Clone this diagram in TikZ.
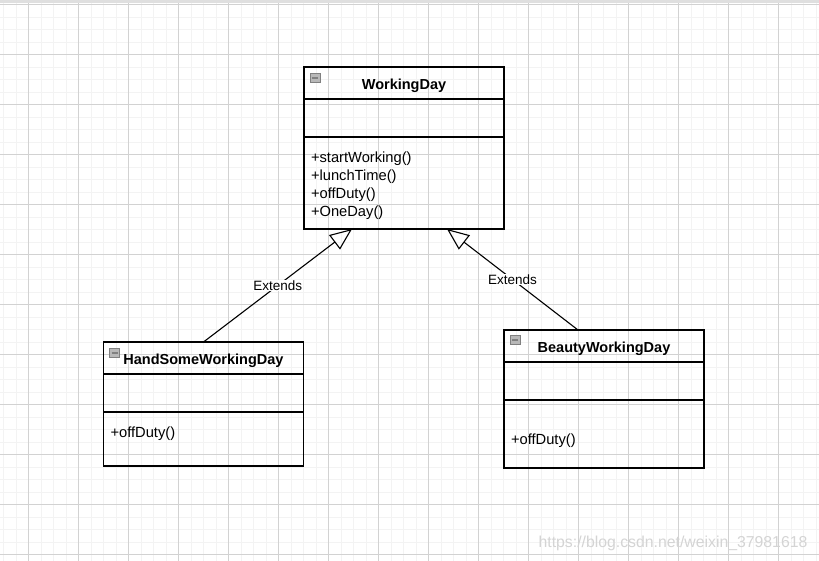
\documentclass[tikz,border=0pt]{standalone}
\usepackage{fontspec}
\setmainfont{Liberation Sans}
\usetikzlibrary{positioning,arrows.meta}

\definecolor{gridmajor}{HTML}{D2D2D2}
\definecolor{gridminor}{HTML}{F3F3F3}
\definecolor{iconfill}{HTML}{B8B8B8}
\definecolor{markgray}{HTML}{D4D4D4}

\tikzset{
  classtitle/.style={draw, line width=1.1pt, outer sep=0pt, inner sep=0pt,
    minimum width=200pt, minimum height=32pt, text height=13.5pt, text depth=0pt,
    font=\fontsize{14.5}{17.5}\selectfont\bfseries},
  classpart/.style={draw, line width=1.1pt, outer sep=0pt, inner sep=0pt,
    minimum width=200pt},
  classops/.style={draw, line width=1.1pt, outer sep=0pt, inner ysep=0pt,
    inner xsep=7pt, text width=186pt, align=left,
    font=\fontsize{14.7}{17.8}\selectfont},
  foldicon/.style={draw=gray, fill=iconfill, minimum width=10pt,
    minimum height=9pt, inner sep=0pt,
    path picture={\draw[line width=1.3pt] ([xshift=2pt]path picture bounding box.west)
      -- ([xshift=-2pt]path picture bounding box.east);}},
  extends/.style={line width=1.1pt, -{Triangle[open, length=22pt, width=18pt, line width=1.1pt]}},
  extlabel/.style={fill=white, inner sep=1pt, font=\fontsize{13.5}{16}\selectfont}
}

\begin{document}
\begin{tikzpicture}[x=1pt, y=-1pt]
  \useasboundingbox (0,0) rectangle (819,561);
  \fill[white] (0,0) rectangle (819,561);
  \foreach \x in {3.3,15.8,...,819} \draw[gridminor] (\x,0) -- (\x,561);
  \foreach \y in {4.3,16.8,...,561} \draw[gridminor] (0,\y) -- (819,\y);
  \foreach \x in {28.3,78.3,...,819} \draw[gridmajor] (\x,0) -- (\x,561);
  \foreach \y in {4.3,54.3,...,561} \draw[gridmajor] (0,\y) -- (819,\y);
  \fill[gray!25] (0,0) rectangle (819,3);

  \node[classtitle, anchor=north] (WorkingDay) at (404,67) {WorkingDay};
  \node[classpart, minimum height=38pt, below=0pt of WorkingDay] (WorkingDay-attr) {};
  \node[classops, minimum height=92pt, text height=10.5pt, text depth=50.5pt,
    below=0pt of WorkingDay-attr] (WorkingDay-ops)
    {+startWorking()\\+lunchTime()\\+offDuty()\\+OneDay()};
  \node[foldicon] (WorkingDay-icon) at (315,78) {};

  \node[classtitle, anchor=north] (HandSome) at (203.5,342) {HandSomeWorkingDay};
  \node[classpart, minimum height=38pt, below=0pt of HandSome] (HandSome-attr) {};
  \node[classops, minimum height=54pt, text height=10pt, text depth=13pt,
    below=0pt of HandSome-attr] (HandSome-ops) {+offDuty()};
  \node[foldicon] (HandSome-icon) at (114.5,353) {};

  \node[classtitle, anchor=north] (Beauty) at (604,330) {BeautyWorkingDay};
  \node[classpart, minimum height=38pt, below=0pt of Beauty] (Beauty-attr) {};
  \node[classops, minimum height=68pt, text height=24pt, text depth=3pt,
    below=0pt of Beauty-attr] (Beauty-ops) {+offDuty()};
  \node[foldicon] (Beauty-icon) at (515,340) {};

  \draw[extends] (HandSome.north) -- ([xshift=-52pt]WorkingDay-ops.south)
    node[extlabel, midway] (ext-left) {Extends};
  \draw[extends] ([xshift=-26pt]Beauty.north) -- ([xshift=43pt]WorkingDay-ops.south)
    node[extlabel, midway] (ext-right) {Extends};

  \node[text=markgray, font=\fontsize{15.8}{18}\selectfont] (mark) at (673,543)
    {https://blog.csdn.net/weixin\_37981618};
\end{tikzpicture}
\end{document}
